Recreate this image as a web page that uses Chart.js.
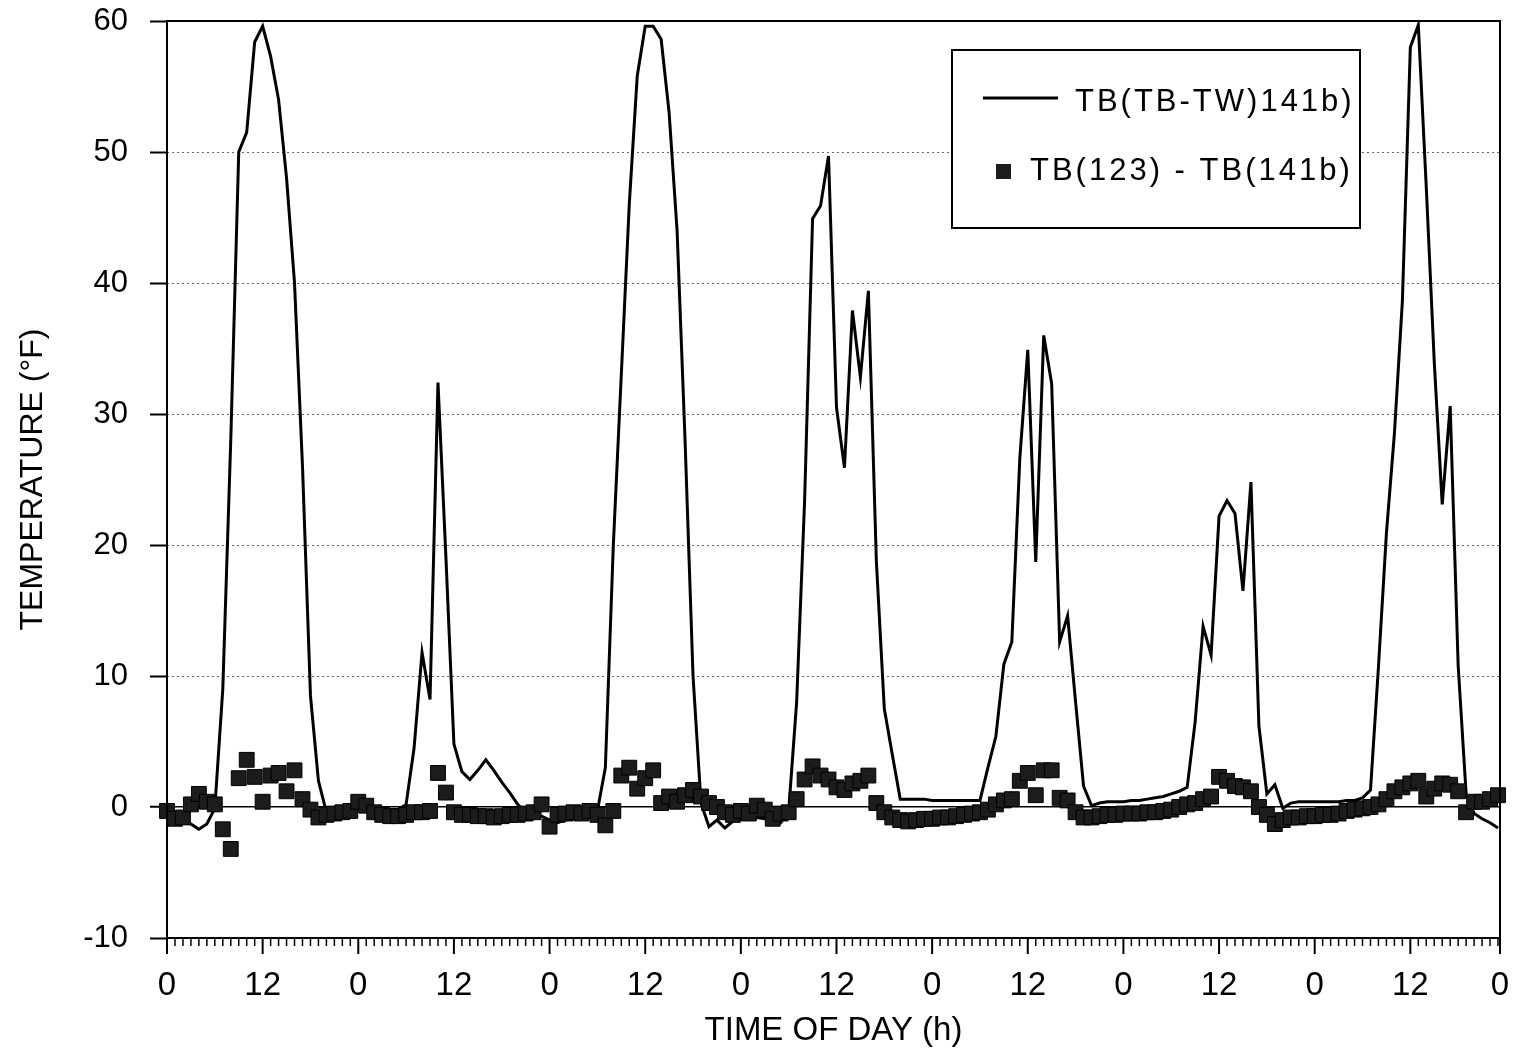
<!DOCTYPE html>
<html>
<head>
<meta charset="utf-8">
<title>TEMPERATURE vs TIME OF DAY</title>
<script src="https://cdn.jsdelivr.net/npm/chart.js@4.4.1/dist/chart.umd.min.js"></script>
<style>
  html, body { margin: 0; padding: 0; background: #fff; }
  #wrap { width: 1520px; height: 1053px; }
</style>
</head>
<body>
<div id="wrap"><canvas id="temperature"></canvas></div>
<script>
(function () {
    "use strict";

    // TB(TB-TW)141b, one reading per hour, 7 days
    var lineTemp = [
        -0.3, -0.7, -0.9, -1.3, -1.7, -1.3, -0.1, 9, 28, 50, 51.5, 58.4, 59.6, 57.3, 54, 48, 40, 26, 8.5, 2, -0.4, -0.3, -0.3, -0.4,
        -0.2, -0.3, -0.4, -0.4, -0.3, -0.2, 0.2, 4.5, 11.8, 8.2, 32.4, 19, 4.8, 2.7, 2.1, 2.8, 3.6, 2.8, 1.9, 1.1, 0.2, -0.4, -0.5, -0.7,
        -1.0, -1.2, -1.0, -0.9, -0.8, -0.6, -0.3, 3, 20, 33, 46, 55.8, 59.6, 59.6, 58.6, 53, 44, 28, 10, 0.3, -1.5, -1.0, -1.6, -1.1,
        -0.9, -0.9, -0.8, -0.9, -1.0, -1.2, -0.3, 8, 23.4, 44.9, 45.9, 49.7, 30.5, 25.9, 37.9, 32.8, 39.4, 18.8, 7.5, 4, 0.6, 0.6, 0.6, 0.6,
        0.5, 0.5, 0.5, 0.5, 0.5, 0.5, 0.5, 3, 5.4, 10.9, 12.6, 26.6, 34.9, 18.7, 36, 32.3, 12.6, 14.6, 8, 1.6, 0.1, 0.3, 0.4, 0.4,
        0.4, 0.5, 0.5, 0.6, 0.7, 0.8, 1.0, 1.2, 1.5, 6.5, 13.8, 11.6, 22.2, 23.4, 22.4, 16.5, 24.8, 6.2, 1.0, 1.7, -0.1, 0.3, 0.4, 0.4,
        0.4, 0.4, 0.4, 0.4, 0.5, 0.5, 0.7, 1.3, 10.7, 20.9, 28.5, 38.6, 58, 59.7, 47.3, 34, 23.1, 30.6, 10.8, 1.0, -0.5, -0.9, -1.2, -1.6
    ];

    // TB(123) - TB(141b), same hours
    var squareTemp = [
        -0.3, -0.9, -0.8, 0.2, 1.0, 0.4, 0.2, -1.7, -3.2, 2.2, 3.6, 2.3, 0.4, 2.4, 2.6, 1.2, 2.8, 0.6, -0.2, -0.8, -0.6, -0.5, -0.4, -0.3,
        0.4, 0.1, -0.4, -0.6, -0.7, -0.7, -0.6, -0.4, -0.4, -0.3, 2.6, 1.1, -0.4, -0.6, -0.6, -0.7, -0.7, -0.8, -0.7, -0.6, -0.6, -0.5, -0.4, 0.2,
        -1.5, -0.6, -0.5, -0.4, -0.5, -0.3, -0.6, -1.4, -0.3, 2.4, 3.0, 1.4, 2.2, 2.8, 0.3, 0.8, 0.4, 0.9, 1.3, 0.8, 0.3, 0.0, -0.4, -0.6,
        -0.3, -0.5, 0.1, -0.2, -0.9, -0.5, -0.4, 0.6, 2.1, 3.1, 2.4, 2.1, 1.5, 1.3, 1.8, 2.0, 2.4, 0.3, -0.4, -0.8, -1.0, -1.1, -1.0, -0.9,
        -0.9, -0.8, -0.8, -0.7, -0.6, -0.5, -0.4, -0.2, 0.2, 0.5, 0.6, 2.0, 2.6, 0.9, 2.8, 2.8, 0.7, 0.5, -0.4, -0.8, -0.8, -0.7, -0.6, -0.6,
        -0.5, -0.5, -0.5, -0.4, -0.4, -0.3, -0.2, 0.0, 0.2, 0.3, 0.6, 0.8, 2.3, 2.0, 1.6, 1.5, 1.2, 0.0, -0.6, -1.3, -1.0, -0.8, -0.8, -0.7,
        -0.7, -0.6, -0.6, -0.5, -0.3, -0.2, -0.1, 0.0, 0.2, 0.6, 1.2, 1.5, 1.8, 2.0, 0.8, 1.4, 1.8, 1.7, 1.2, -0.4, 0.4, 0.4, 0.6, 0.9
    ];

    // hours since start (0..167), axis ends a little after the last reading
    var hours = lineTemp.map(function (v, i) { return i; });
    var xMax = 167.25;
    var hourLabels = ['0', '12'];
    var yTicks = [-10, 0, 10, 20, 30, 40, 50, 60];

    var seriesNames = ['TB(TB-TW)141b)', 'TB(123) - TB(141b)'];

    var FONT = '"Liberation Sans", Arial, Helvetica, sans-serif';
    Chart.defaults.font.family = FONT;
    Chart.defaults.color = "#000";

    function toPoints(values) {
        return values.map(function (v, i) { return { x: hours[i], y: v }; });
    }

    // Frame, hour ticks and the boxed legend
    var extras = {
        id: 'extras',
        afterDraw: function (chart) {
            var ctx = chart.ctx;
            var a = chart.chartArea;
            var xs = chart.scales.x;
            var sets = chart.data.datasets;

            ctx.save();
            ctx.strokeStyle = "#000";
            ctx.lineWidth = 2;
            ctx.strokeRect(a.left, a.top, a.right - a.left, a.bottom - a.top);

            xs.ticks.forEach(function (t) {
                var px = xs.getPixelForValue(t.value);
                var major = t.value % 12 === 0 || t.value === xMax;
                ctx.lineWidth = major ? 2 : 1.5;
                ctx.beginPath();
                ctx.moveTo(px, a.bottom);
                ctx.lineTo(px, a.bottom + (major ? 16 : 8));
                ctx.stroke();
            });

            // legend
            ctx.fillStyle = "#fff";
            ctx.fillRect(952, 50, 408, 178);
            ctx.lineWidth = 2;
            ctx.strokeRect(952, 50, 408, 178);

            ctx.strokeStyle = sets[0].borderColor;
            ctx.lineWidth = sets[0].borderWidth;
            ctx.beginPath();
            ctx.moveTo(983, 98);
            ctx.lineTo(1058, 98);
            ctx.stroke();

            ctx.fillStyle = sets[1].backgroundColor;
            ctx.fillRect(996, 164, 15, 15);

            ctx.fillStyle = "#000";
            ctx.font = '31px ' + FONT;
            ctx.letterSpacing = '3px';
            ctx.textBaseline = 'middle';
            ctx.textAlign = 'left';
            ctx.fillText(sets[0].label, 1075, 102);
            ctx.fillText(sets[1].label, 1030, 171);
            ctx.restore();
        }
    };

    new Chart(document.getElementById('temperature'), {
        type: 'line',
        data: {
            datasets: [{
                    label: seriesNames[0],
                    data: toPoints(lineTemp),
                    borderColor: "#000",
                    borderWidth: 3,
                    pointRadius: 0,
                    tension: 0,
                    order: 1
                },
                {
                    label: seriesNames[1],
                    data: toPoints(squareTemp),
                    showLine: false,
                    pointStyle: 'rect',
                    pointRadius: 10.5,
                    backgroundColor: "#1c1c1c",
                    borderColor: "#000",
                    borderWidth: 1,
                    clip: false,
                    order: 0
                }
            ]
        },
        options: {
            responsive: true,
            maintainAspectRatio: false,
            animation: false,
            devicePixelRatio: 1,
            layout: { padding: { top: 21, right: 20, left: 0, bottom: 0 } },
            plugins: {
                legend: { display: false },
                tooltip: { enabled: false }
            },
            scales: {
                x: {
                    type: 'linear',
                    min: 0,
                    max: xMax,
                    afterBuildTicks: function (s) {
                        s.ticks = hours.map(function (h) { return { value: h }; }).concat([{ value: xMax }]);
                    },
                    afterFit: function (s) {
                        s.height = 115;
                        s.paddingLeft = 0;
                        s.paddingRight = 0;
                    },
                    grid: { display: false },
                    border: { display: false },
                    ticks: {
                        autoSkip: false,
                        maxRotation: 0,
                        padding: 20,
                        font: { size: 33 },
                        callback: function (v) {
                            if (v === xMax) return hourLabels[0];
                            if (v % 12 !== 0) return '';
                            return hourLabels[(v % 24) / 12];
                        }
                    },
                    title: {
                        display: true,
                        text: 'TIME OF DAY (h)',
                        font: { size: 33 },
                        padding: { top: 0, bottom: 2 }
                    }
                },
                y: {
                    min: -10,
                    max: 60,
                    afterBuildTicks: function (s) {
                        s.ticks = yTicks.map(function (v) { return { value: v }; });
                    },
                    afterFit: function (s) {
                        s.width = 167;
                        s.paddingTop = 0;
                        s.paddingBottom = 0;
                    },
                    grid: {
                        color: function (c) {
                            var v = c.tick.value;
                            if (v === 0) return "#000";
                            return (v > 0 && v < 60) ? "#666" : "rgba(0,0,0,0)";
                        },
                        lineWidth: function (c) { return c.tick.value === 0 ? 1.5 : 1; },
                        tickLength: 17,
                        tickColor: "#000",
                        tickWidth: 2
                    },
                    border: {
                        display: false,
                        dash: function (c) { return c.tick && c.tick.value === 0 ? [] : [2, 3]; }
                    },
                    ticks: {
                        padding: 22,
                        font: { size: 31 },
                        callback: function (v) { return String(v); }
                    },
                    title: {
                        display: true,
                        text: 'TEMPERATURE (°F)',
                        font: { size: 32 },
                        padding: { top: 14, bottom: 0 }
                    }
                }
            }
        },
        plugins: [extras]
    });
})();
</script>
</body>
</html>
